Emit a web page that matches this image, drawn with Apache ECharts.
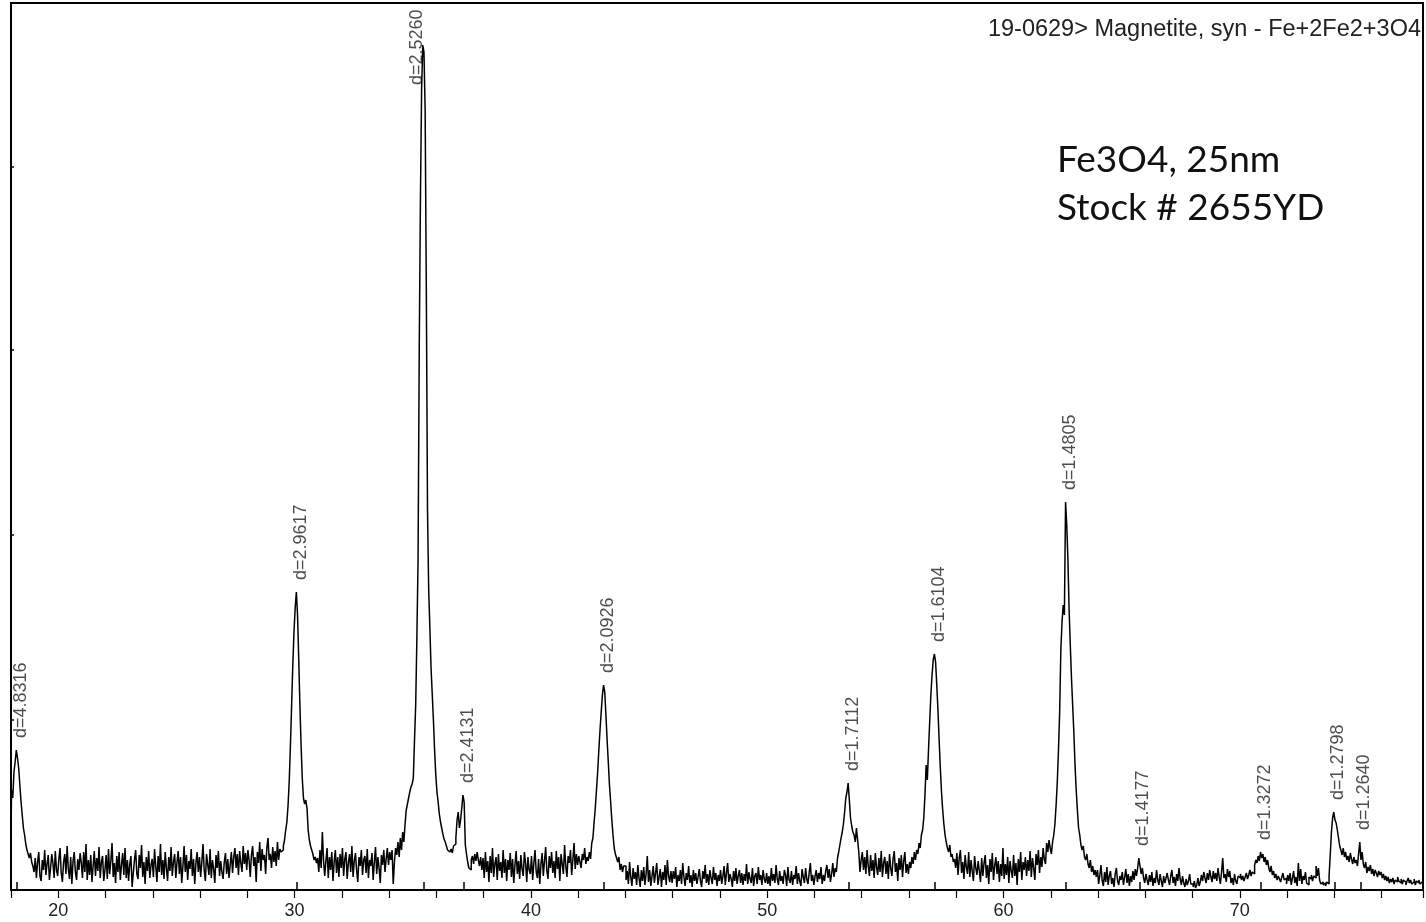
<!DOCTYPE html>
<html><head><meta charset="utf-8">
<script src="https://cdn.jsdelivr.net/npm/echarts@6/dist/echarts.min.js"></script>
<style>html,body{margin:0;padding:0;background:#fff}#c{width:1426px;height:922px}</style>
</head><body><div id="c"></div>
<script>
// 2-theta sampling of the scan
const start2Theta = 18.0;
const step2Theta = 0.05;
// intensity, one row per degree (20 samples per degree)
const counts = [
/*18*/ 55,100,92,118,128,140,132,122,105,88,75,62,55,46,40,36,32,37,28,24,
/*19*/ 18,32,12,28,38,14,9,30,20,40,15,26,35,10,22,36,27,12,39,20,
/*20*/ 14,31,42,17,8,28,36,16,44,21,11,33,6,29,38,18,10,31,20,37,
/*21*/ 27,12,38,18,46,10,30,15,35,8,24,39,14,32,19,43,12,28,34,9,
/*22*/ 20,35,11,41,16,29,47,13,27,7,34,18,38,10,25,37,15,42,12,30,
/*23*/ 9,26,34,3,17,30,40,16,11,35,22,45,13,28,6,33,19,39,12,25,
/*24*/ 31,13,41,24,8,34,18,46,15,30,11,38,22,9,33,19,43,14,28,36,
/*25*/ 12,28,39,16,33,7,24,44,18,35,10,29,21,41,14,31,6,27,38,18,
/*26*/ 33,13,28,46,20,9,36,25,15,41,12,30,21,7,35,22,39,14,29,18,
/*27*/ 11,28,37,16,31,12,25,38,17,33,42,22,36,15,39,27,18,44,26,37,
/*28*/ 20,40,30,13,35,44,24,33,8,38,27,48,19,41,30,35,16,42,52,30,
/*29*/ 36,22,43,28,39,24,48,30,41,38,40,44,50,60,68,85,110,145,185,225,
/*30*/ 258,282,298,275,232,185,145,112,92,86,90,82,60,50,44,40,36,30,33,27,
/*31*/ 32,18,40,22,58,30,14,29,42,12,33,20,38,9,28,40,17,33,13,36,
/*32*/ 22,42,14,31,38,11,27,36,18,44,13,29,37,20,8,33,24,40,15,30,
/*33*/ 34,17,41,12,30,24,37,10,28,43,16,33,22,7,35,25,40,18,31,42,
/*34*/ 25,38,30,40,6,28,42,35,48,33,52,40,58,48,66,80,86,92,98,103,
/*35*/ 106,112,150,185,252,330,540,690,800,845,838,780,600,380,300,262,222,196,170,140,
/*36*/ 115,98,88,76,68,62,56,51,48,44,40,38,36,41,37,44,46,52,70,78,
/*37*/ 62,70,82,95,88,45,36,28,22,20,30,34,26,36,29,38,30,24,33,20,
/*38*/ 32,12,38,18,29,8,34,17,42,13,26,33,10,36,19,28,12,40,17,31,
/*39*/ 9,30,20,37,13,31,7,25,39,16,29,11,35,21,14,38,27,8,33,20,
/*40*/ 16,34,10,27,40,18,12,31,6,26,37,14,29,43,19,11,34,22,38,17,
/*41*/ 29,12,39,21,33,9,36,26,16,45,24,13,34,27,40,15,30,47,21,36,
/*42*/ 25,34,28,22,36,30,42,26,33,29,38,31,47,52,68,82,100,118,140,160,
/*43*/ 178,195,205,198,175,150,128,105,88,70,55,42,36,32,28,33,20,26,18,24,
/*44*/ 24,10,19,6,28,13,4,22,11,18,5,25,12,3,20,9,23,5,16,34,
/*45*/ 8,20,4,14,24,7,17,27,5,13,21,3,18,10,25,5,30,14,8,19,
/*46*/ 7,19,11,23,3,15,9,20,6,27,13,4,17,10,24,7,15,3,20,9,
/*47*/ 17,6,13,21,9,3,19,11,25,7,16,5,20,12,6,23,10,17,4,15,
/*48*/ 9,20,6,14,24,5,17,27,8,16,11,3,19,9,22,6,14,20,7,17,
/*49*/ 5,16,9,26,6,18,11,7,22,4,14,17,6,23,10,15,5,20,11,7,
/*50*/ 17,6,14,4,22,9,16,7,25,11,5,19,9,14,6,20,15,4,23,10,
/*51*/ 7,19,5,15,11,24,6,17,9,4,21,13,7,22,11,6,17,27,9,15,
/*52*/ 5,14,20,8,17,11,23,6,15,9,19,25,12,21,8,16,27,13,22,18,
/*53*/ 32,38,45,52,58,66,78,92,98,107,90,72,64,58,55,48,62,50,38,18,
/*54*/ 30,38,20,33,16,40,24,14,35,19,30,12,37,23,15,32,18,39,13,27,
/*55*/ 33,16,29,11,36,22,14,31,39,18,27,9,32,20,35,13,29,38,17,26,
/*56*/ 16,28,22,33,26,38,30,40,36,47,42,55,60,72,95,125,110,140,168,195,
/*57*/ 215,230,236,228,205,180,150,122,98,80,66,55,48,42,38,45,33,36,28,31,
/*58*/ 22,37,15,32,40,17,28,11,35,23,16,38,13,30,19,9,34,22,15,29,
/*59*/ 19,8,32,14,27,35,12,25,6,31,18,37,10,24,33,16,29,8,26,14,
/*60*/ 42,11,26,15,33,7,29,19,12,35,14,27,5,31,18,38,10,28,20,33,
/*61*/ 14,30,19,39,13,32,22,10,36,25,40,17,33,23,42,31,26,47,38,50,
/*62*/ 42,36,48,55,66,85,108,140,178,240,268,285,275,388,365,330,280,245,212,185,
/*63*/ 158,125,100,80,62,55,45,40,44,33,30,36,26,22,30,18,24,15,20,13,
/*64*/ 20,6,15,25,9,4,18,8,23,5,14,19,6,12,3,16,22,9,5,14,
/*65*/ 10,18,5,13,21,7,16,4,14,8,19,10,21,14,22,32,24,16,22,12,
/*66*/ 7,16,10,5,15,8,18,4,12,7,20,10,5,16,9,3,14,7,12,17,
/*67*/ 10,5,14,20,7,13,4,16,9,22,11,5,14,7,3,11,5,9,16,6,
/*68*/ 6,3,9,2,5,12,4,8,15,9,18,12,7,17,10,20,13,8,19,11,
/*69*/ 17,9,22,13,6,18,32,12,16,8,21,13,19,7,12,5,16,9,6,14,
/*70*/ 12,16,10,14,9,13,17,11,15,20,14,18,16,25,30,27,34,29,38,32,
/*71*/ 36,28,33,25,30,22,18,24,15,19,12,16,10,14,11,8,13,17,10,12,
/*72*/ 6,15,9,17,5,12,19,7,13,4,27,9,21,6,14,10,18,7,5,13,
/*73*/ 11,15,9,14,12,24,14,22,10,6,8,5,7,4,8,6,14,35,58,72,
/*74*/ 78,70,67,60,52,44,40,35,42,33,38,30,34,28,37,31,26,33,27,30,
/*75*/ 24,36,48,30,38,26,22,28,17,23,19,25,16,21,14,20,17,13,19,15,
/*76*/ 18,12,16,10,14,9,13,7,11,8,12,6,10,8,13,9,7,11,6,10,
/*77*/ 8,5,9,12,7,10,6,8,11,5,9,7,10,6,8,9
];
// identified peaks: 2-theta position and d-spacing label
const peakPos = [18.25, 30.1, 35.45, 37.15, 43.1, 53.45, 57.1, 62.65, 65.75, 70.9, 74.0, 75.1];
const peakD = ['4.8316','2.9617','2.5260','2.4131','2.0926','1.7112','1.6104','1.4805','1.4177','1.3272','1.2798','1.2640'];
const xTickLabels = [20, 30, 40, 50, 60, 70];
const yTickValues = [170, 355, 540, 723];
const phaseLabel = '19-0629> Magnetite, syn - Fe+2Fe2+3O4';
const sampleLines = ['Fe3O4, 25nm', 'Stock # 2655YD'];

const X_MIN = 18, X_MAX = 77.75, Y_MAX = 887;
const trace = counts.map((v, i) => [+(start2Theta + i * step2Theta).toFixed(2), v]);
function peakTop(p) {
  let m = 0;
  trace.forEach(([x, v]) => { if (Math.abs(x - p) <= 0.151 && v > m) m = v; });
  return m;
}
const LABEL_GAP = 12, LABEL_LEN = 82;
const labelData = peakPos.map((p, i) => {
  const top = peakTop(p);
  const start = Math.min(top + LABEL_GAP, Y_MAX - LABEL_LEN);
  const clamped = start < top + LABEL_GAP;
  return {
    value: [p, start],
    label: { offset: [0, clamped ? -6 : 4] },
    d: peakD[i]
  };
});

const chart = echarts.init(document.getElementById('c'), null, { renderer: 'canvas' });
chart.setOption({
  animation: false,
  backgroundColor: '#fff',
  grid: { left: 11, right: 0, top: 3, bottom: 32, show: true, borderColor: '#000', borderWidth: 2, containLabel: false },
  xAxis: {
    type: 'value', min: X_MIN, max: X_MAX, interval: 2,
    axisLine: { show: true, onZero: false, lineStyle: { color: '#000', width: 1.5 } },
    axisTick: { show: true, length: 8, lineStyle: { color: '#000', width: 1.2 } },
    axisLabel: {
      color: '#222', fontSize: 18, fontFamily: 'Liberation Sans', margin: 12,
      showMinLabel: true, showMaxLabel: true, hideOverlap: false,
      formatter: v => { const r = Math.round(v); return (Math.abs(v - r) < 1e-6 && xTickLabels.includes(r)) ? String(r) : ''; }
    },
    splitLine: { show: false }
  },
  yAxis: {
    type: 'value', min: 0, max: Y_MAX,
    axisLine: { show: true, lineStyle: { color: '#000', width: 2 } },
    axisTick: { show: true, inside: true, length: 3, customValues: yTickValues, lineStyle: { color: '#000', width: 1.5 } },
    axisLabel: { show: false },
    splitLine: { show: false }
  },
  series: [
    {
      type: 'line', data: trace, step: 'middle', symbol: 'none', silent: true,
      lineStyle: { color: '#000', width: 1.5 },
      markLine: {
        silent: true, symbol: 'none', label: { show: false },
        lineStyle: { color: '#000', width: 1.5, type: 'solid' },
        data: peakPos.map(p => [{ coord: [p, 0] }, { coord: [p, 8] }])
      }
    },
    {
      type: 'scatter', data: labelData, symbolSize: 0, silent: true,
      label: {
        show: true, position: 'top', distance: 0, rotate: 90, align: 'left', verticalAlign: 'middle',
        color: '#222', fontSize: 18, fontFamily: 'Liberation Sans',
        formatter: p => 'd=' + p.data.d
      }
    }
  ],
  graphic: [
    { type: 'text', right: 5, top: 18, style: { text: phaseLabel, font: '23.5px "Liberation Sans"', fill: '#222' } },
    { type: 'text', left: 1057, top: 136, style: { text: sampleLines.join('\n'), font: '37px Lato', lineHeight: 48, fill: '#111' } }
  ]
});
</script></body></html>
